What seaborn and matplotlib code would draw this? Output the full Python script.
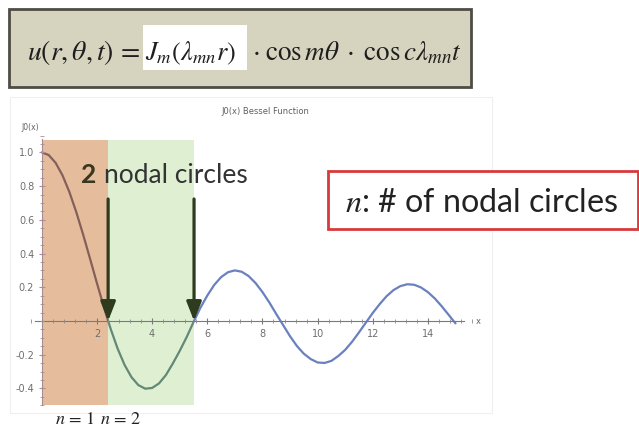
import numpy as np
import matplotlib
matplotlib.use("Agg")
import matplotlib.pyplot as plt
import seaborn as sns
from matplotlib.patches import Rectangle
from matplotlib.ticker import MultipleLocator

# Bessel J0 sampled along r
r_values = [0.00, 0.25, 0.50, 0.75, 1.00, 1.25, 1.50, 1.75, 2.00, 2.25,
            2.50, 2.75, 3.00, 3.25, 3.50, 3.75, 4.00, 4.25, 4.50, 4.75,
            5.00, 5.25, 5.50, 5.75, 6.00, 6.25, 6.50, 6.75, 7.00, 7.25,
            7.50, 7.75, 8.00, 8.25, 8.50, 8.75, 9.00, 9.25, 9.50, 9.75,
            10.00, 10.25, 10.50, 10.75, 11.00, 11.25, 11.50, 11.75, 12.00, 12.25,
            12.50, 12.75, 13.00, 13.25, 13.50, 13.75, 14.00, 14.25, 14.50, 14.75,
            15.00]
j0_values = [1.0000, 0.9844, 0.9385, 0.8642, 0.7652, 0.6459, 0.5118, 0.3690, 0.2239, 0.0827,
             -0.0484, -0.1641, -0.2601, -0.3328, -0.3801, -0.4014, -0.3971, -0.3701, -0.3205, -0.2522,
             -0.1776, -0.0963, -0.0068, 0.0782, 0.1506, 0.2136, 0.2601, 0.2893, 0.3001, 0.2920,
             0.2663, 0.2252, 0.1717, 0.1100, 0.0419, -0.0243, -0.0903, -0.1484, -0.1939, -0.2257,
             -0.2459, -0.2490, -0.2366, -0.2077, -0.1712, -0.1232, -0.0677, -0.0097, 0.0477, 0.1000,
             0.1469, 0.1830, 0.2069, 0.2180, 0.2150, 0.1989, 0.1711, 0.1336, 0.0875, 0.0368,
             -0.0142]

nodal_zeros = [2.405, 5.520]
x_ticks = [2, 4, 6, 8, 10, 12, 14]
y_ticks = [-0.4, -0.2, 0.2, 0.4, 0.6, 0.8, 1.0]
y_tick_labels = ["-0.4", "-0.2", "0.2", "0.4", "0.6", "0.8", "1.0"]
mode_labels = [r"$n\,=\,1$", r"$n\,=\,2$"]
nodal_count = "2"

sns.set_theme(style="white")
plt.rcParams["font.family"] = ["DejaVu Sans"]
plt.rcParams["mathtext.fontset"] = "stix"

W, H = 639, 430
fig = plt.figure(figsize=(W / 100, H / 100), dpi=100)
fig.patch.set_facecolor("white")


def box(x0, y0, x1, y1):
    return [x0 / W, 1 - y1 / H, (x1 - x0) / W, (y1 - y0) / H]


# ---- Bessel plot panel ----
X0, SX = 41.8, 27.58
Y0, SY = 321.0, 168.6
ax = fig.add_axes(box(20, 135, 480, 410))
ax.set_xlim((20 - X0) / SX, (480 - X0) / SX)
ax.set_ylim((Y0 - 410) / SY, (Y0 - 135) / SY)
ax.patch.set_alpha(0)
ax.set_axisbelow(False)

for s in ["top", "right"]:
    ax.spines[s].set_visible(False)
for s in ["bottom", "left"]:
    ax.spines[s].set_position(("data", 0))
    ax.spines[s].set_color("#7a7a7a")
    ax.spines[s].set_linewidth(0.8)
ax.spines["left"].set_color("#a88c92")
ax.spines["bottom"].set_bounds(-0.25, 15.3)
ax.spines["left"].set_bounds(-0.5, 1.08)

ax.set_xticks(x_ticks)
ax.set_xticklabels([str(t) for t in x_ticks])
ax.set_yticks(y_ticks)
ax.set_yticklabels(y_tick_labels)
ax.xaxis.set_minor_locator(MultipleLocator(0.4))
ax.yaxis.set_minor_locator(MultipleLocator(0.05))
ax.tick_params(which="major", direction="inout", length=5, width=0.8,
               color="#7a7a7a", labelsize=7, labelcolor="#6e6e6e", pad=3)
ax.tick_params(which="minor", direction="inout", length=3, width=0.6, color="#8a8a8a")
ax.tick_params(axis="x", which="both", bottom=True)
ax.tick_params(axis="y", which="both", left=True, color="#b08a94")

y_top, y_bot = (Y0 - 140) / SY, (Y0 - 405) / SY

# base curve
sns.lineplot(x=r_values, y=j0_values, ax=ax, color="#6a80bf", linewidth=1.6,
             zorder=0.5, sort=False)

# shaded regions for n = 1 and n = 2
band_bounds = [0.0] + nodal_zeros
band_colors = ["#e6bd9c", "#dff0d2"]
curve_tints = ["#84605a", "#638877"]
for i in range(2):
    rect = Rectangle((band_bounds[i], y_bot), band_bounds[i + 1] - band_bounds[i],
                     y_top - y_bot, facecolor=band_colors[i], edgecolor="none",
                     zorder=0.8)
    ax.add_patch(rect)
    sns.lineplot(x=r_values, y=j0_values, ax=ax, color=curve_tints[i],
                 linewidth=1.6, zorder=1.0, sort=False)
    ax.lines[-1].set_clip_path(rect)

# arrows to the nodal points
arrow_top = (Y0 - 199) / SY
for z in nodal_zeros:
    ax.annotate("", xy=(z, 0), xytext=(z, arrow_top),
                arrowprops=dict(arrowstyle="-|>,head_length=1.15,head_width=0.45",
                                mutation_scale=10, lw=2.3, color="#2e3b1d",
                                shrinkA=0, shrinkB=0),
                zorder=5)

# ---- pixel-space overlay for labels and boxes ----
ov = fig.add_axes([0, 0, 1, 1])
ov.set_xlim(0, W)
ov.set_ylim(H, 0)
ov.axis("off")
ov.patch.set_alpha(0)

# faint frame around the plot panel
ov.add_patch(Rectangle((10, 97), 482, 316, facecolor="none", edgecolor="#efefef", lw=0.8))

ov.text(265, 111, "J0(x) Bessel Function", fontsize=6, color="#606060",
        ha="center", va="center")
ov.text(30, 128, "J0(x)", fontsize=5.5, color="#606060", ha="center", va="center")
ov.text(478, 322, "x", fontsize=6, color="#606060", ha="center", va="center")

# nodal circles caption
ov.text(81, 183, nodal_count, fontsize=19, fontweight="bold", color="#3a3620",
        family=["Lato", "DejaVu Sans"], ha="left", va="baseline")
ov.text(104, 183, "nodal circles", fontsize=19, color="#333333",
        family=["Lato", "DejaVu Sans"], ha="left", va="baseline")

# mode labels under the bands
ov.text(75, 419, mode_labels[0], fontsize=13, color="#222222", ha="center", va="center")
ov.text(121, 419, mode_labels[1], fontsize=13, color="#222222", ha="center", va="center")

# legend-like red box
ov.add_patch(Rectangle((328, 171), 310, 58, facecolor="white", edgecolor="#d8393b", lw=2))
ov.text(345, 212, r"$n$: # of nodal circles", fontsize=23.2, color="#222222",
        family=["Lato", "DejaVu Sans"], ha="left", va="baseline")

# equation banner
ov.add_patch(Rectangle((9, 9), 462, 78, facecolor="#d6d4bf", edgecolor="#4d4d45", lw=2))
ov.add_patch(Rectangle((143, 25), 104, 45, facecolor="white", edgecolor="none"))
ov.text(27, 60, r"$u(r,\theta,t)\,=$", fontsize=20, color="#1e1e1e",
        ha="left", va="baseline")
ov.text(145, 60, r"$J_m(\lambda_{mn}r)$", fontsize=19, color="#1e1e1e",
        ha="left", va="baseline")
ov.text(252, 60, r"$\cdot\;\cos m\theta\;\cdot\;\cos c\lambda_{mn}t$", fontsize=19.5,
        color="#1e1e1e", ha="left", va="baseline")

fig.savefig("out.png", dpi=100)
